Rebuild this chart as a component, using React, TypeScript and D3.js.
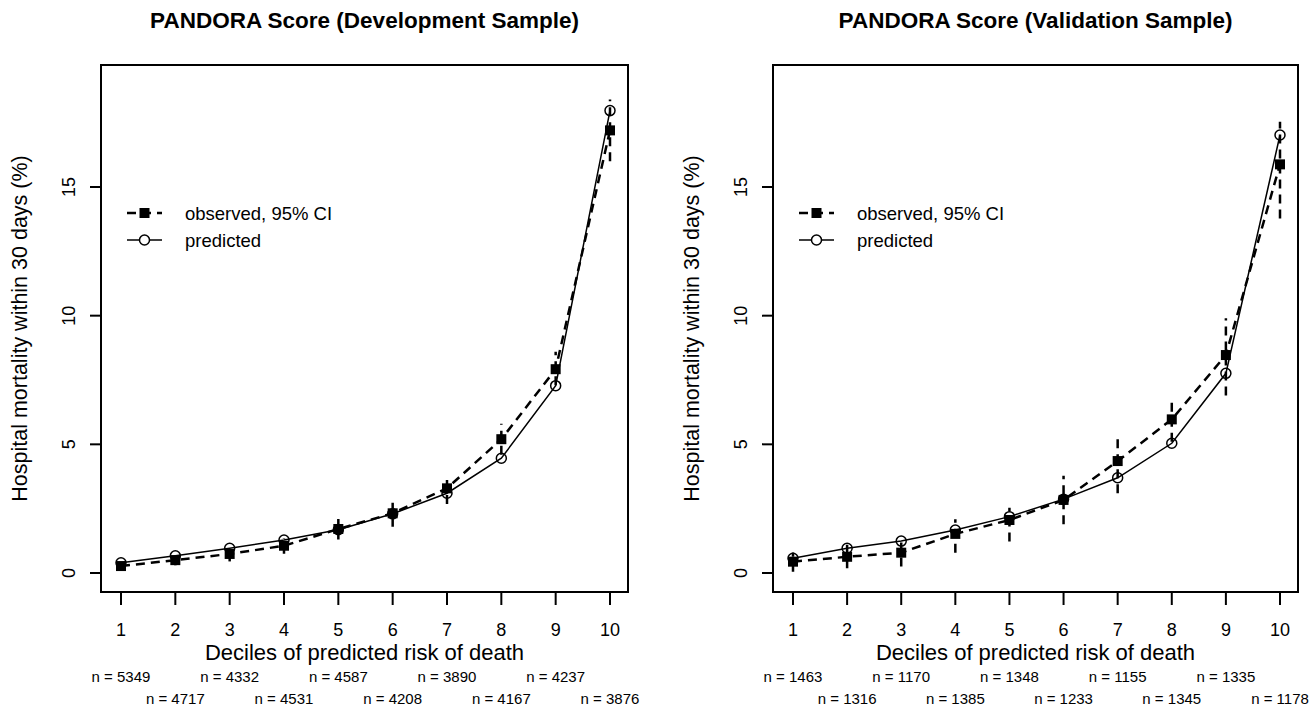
import React from "react";
import * as d3 from "d3";

const deciles = [1, 2, 3, 4, 5, 6, 7, 8, 9, 10];
const yTicks = [0, 5, 10, 15];

// development sample
const devObserved = [0.27, 0.5, 0.74, 1.06, 1.71, 2.32, 3.29, 5.2, 7.92, 17.2];
const devLower = [0.15, 0.3, 0.45, 0.75, 1.3, 1.8, 2.68, 4.6, 7.3, 16.0];
const devUpper = [0.4, 0.7, 1.0, 1.35, 2.1, 2.75, 3.85, 5.8, 8.6, 18.4];
const devPredicted = [0.4, 0.67, 0.96, 1.28, 1.68, 2.3, 3.1, 4.46, 7.28, 17.97];
const devN = [5349, 4717, 4332, 4531, 4587, 4208, 3890, 4167, 4237, 3876];

// validation sample
const valObserved = [0.44, 0.63, 0.79, 1.52, 2.06, 2.84, 4.35, 5.97, 8.47, 15.88];
const valLower = [0.05, 0.18, 0.25, 0.79, 1.22, 1.89, 3.1, 5.1, 6.9, 13.78];
const valUpper = [0.8, 1.1, 1.3, 2.09, 2.54, 3.78, 5.23, 6.79, 9.9, 17.54];
const valPredicted = [0.57, 0.96, 1.24, 1.67, 2.19, 2.87, 3.7, 5.04, 7.76, 17.02];
const valN = [1463, 1316, 1170, 1385, 1348, 1233, 1155, 1345, 1335, 1178];

const font = "Liberation Sans, Arial, sans-serif";

type PanelProps = {
  title: string;
  left: number;
  right: number;
  observed: number[];
  lower: number[];
  upper: number[];
  predicted: number[];
  ns: number[];
};

function Panel({ title, left, right, observed, lower, upper, predicted, ns }: PanelProps) {
  const top = 65;
  const bottom = 592;
  const x = d3.scaleLinear().domain([1, 10]).range([left + 20, right - 18]);
  const y = d3.scaleLinear().domain([0, 15]).range([573, 187]);
  const mid = (left + right) / 2;

  const line = d3
    .line<number>()
    .x((_, i) => x(deciles[i]))
    .y((d) => y(d));

  return (
    <g fontFamily={font} fill="#000">
      <text x={mid} y={28} textAnchor="middle" fontSize={22.5} fontWeight="bold">
        {title}
      </text>
      <rect x={left} y={top} width={right - left} height={bottom - top} fill="none" stroke="#000" strokeWidth={2} />

      {/* y axis */}
      {yTicks.map((t) => (
        <g key={t}>
          <line x1={left - 11} x2={left} y1={y(t)} y2={y(t)} stroke="#000" strokeWidth={2} />
          <text
            transform={`translate(${left - 26},${y(t)}) rotate(-90)`}
            textAnchor="middle"
            fontSize={18}
          >
            {t}
          </text>
        </g>
      ))}
      <text
        transform={`translate(${left - 74},${(top + bottom) / 2}) rotate(-90)`}
        textAnchor="middle"
        fontSize={21.5}
      >
        Hospital mortality within 30 days (%)
      </text>

      {/* x axis */}
      {deciles.map((d, i) => (
        <g key={d}>
          <line x1={x(d)} x2={x(d)} y1={bottom} y2={bottom + 13} stroke="#000" strokeWidth={2} />
          <text x={x(d)} y={636} textAnchor="middle" fontSize={18}>
            {d}
          </text>
          <text x={x(d)} y={i % 2 === 0 ? 682 : 704} textAnchor="middle" fontSize={15}>
            {`n = ${ns[i]}`}
          </text>
        </g>
      ))}
      <text x={mid} y={660} textAnchor="middle" fontSize={22}>
        Deciles of predicted risk of death
      </text>

      {/* confidence intervals */}
      {deciles.map((d, i) => (
        <line
          key={d}
          x1={x(d)}
          x2={x(d)}
          y1={y(lower[i])}
          y2={y(upper[i])}
          stroke="#000"
          strokeWidth={2.5}
          strokeDasharray="9,6"
        />
      ))}

      <path d={line(observed) ?? ""} fill="none" stroke="#000" strokeWidth={2.5} strokeDasharray="9,6" />
      <path d={line(predicted) ?? ""} fill="none" stroke="#000" strokeWidth={1.5} />

      {observed.map((v, i) => (
        <rect key={i} x={x(deciles[i]) - 5} y={y(v) - 5} width={10} height={10} fill="#000" />
      ))}
      {predicted.map((v, i) => (
        <circle key={i} cx={x(deciles[i])} cy={y(v)} r={5} fill="none" stroke="#000" strokeWidth={1.5} />
      ))}

      {/* legend */}
      <g>
        <line x1={left + 26} x2={left + 61} y1={213} y2={213} stroke="#000" strokeWidth={2.5} strokeDasharray="9,6" />
        <rect x={left + 38.5} y={208} width={10} height={10} fill="#000" />
        <text x={left + 84} y={219.5} fontSize={18.5}>
          observed, 95% CI
        </text>
        <line x1={left + 26} x2={left + 61} y1={240} y2={240} stroke="#000" strokeWidth={1.5} />
        <circle cx={left + 43.5} cy={240} r={5} fill="#fff" stroke="#000" strokeWidth={1.5} />
        <text x={left + 84} y={246.5} fontSize={18.5}>
          predicted
        </text>
      </g>
    </g>
  );
}

export default function App() {
  return (
    <svg width={1312} height={708} style={{ display: "block", position: "absolute", left: 0, top: 0, background: "#fff" }}>
      <rect width={1312} height={708} fill="#fff" />
      <Panel
        title="PANDORA Score (Development Sample)"
        left={101}
        right={628}
        observed={devObserved}
        lower={devLower}
        upper={devUpper}
        predicted={devPredicted}
        ns={devN}
      />
      <Panel
        title="PANDORA Score (Validation Sample)"
        left={773}
        right={1298}
        observed={valObserved}
        lower={valLower}
        upper={valUpper}
        predicted={valPredicted}
        ns={valN}
      />
    </svg>
  );
}
